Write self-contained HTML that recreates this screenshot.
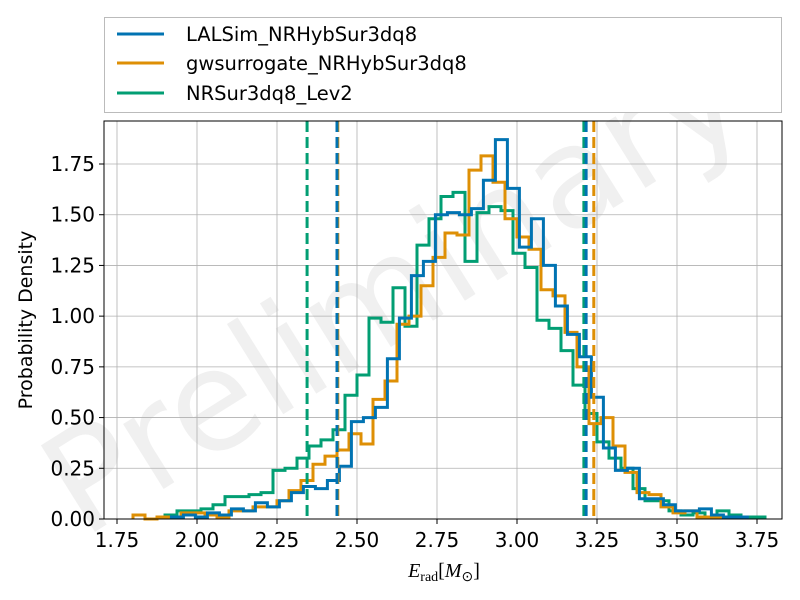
<!DOCTYPE html>
<html><head><meta charset="utf-8"><style>
html,body{margin:0;padding:0;background:#fff;}
svg{display:block;font-family:"DejaVu Sans","Liberation Sans",sans-serif;}
</style></head><body>
<svg id="chart" width="800" height="600" xmlns="http://www.w3.org/2000/svg">
<text x="400" y="335" transform="rotate(-32 400 300)" text-anchor="middle" font-size="140" fill="#000" fill-opacity="0.06">Preliminary</text>
<g id="grid"></g>
<g id="series"></g>
<g id="vlines"></g>
<rect x="104" y="121" width="678" height="398" fill="none" stroke="#000" stroke-width="1"/>
<g id="ticks"></g>
<text x="32" y="320" transform="rotate(-90 32 320)" text-anchor="middle" font-size="19">Probability Density</text>
<text x="444" y="577" text-anchor="middle" font-size="20" font-family="'Liberation Serif',serif" font-style="italic">E<tspan font-size="14" font-style="normal" dy="4">rad</tspan><tspan dy="-4" font-style="normal">[</tspan>M<tspan font-size="14" font-style="normal" dy="4">⊙</tspan><tspan dy="-4" font-style="normal">]</tspan></text>
<g>
<rect x="104.5" y="17.5" width="677" height="95" fill="#fff" stroke="#bbb"/>
<line x1="117" y1="34" x2="164" y2="34" stroke="#0173b2" stroke-width="3"/>
<text x="186" y="41" font-size="19.5">LALSim_NRHybSur3dq8</text>
<line x1="117" y1="63" x2="164" y2="63" stroke="#de8f05" stroke-width="3"/>
<text x="186" y="70" font-size="19.5">gwsurrogate_NRHybSur3dq8</text>
<line x1="117" y1="93" x2="164" y2="93" stroke="#029e73" stroke-width="3"/>
<text x="186" y="100" font-size="19.5">NRSur3dq8_Lev2</text>
</g>
</svg>
<script>
const xTicks=[1.75,2.00,2.25,2.50,2.75,3.00,3.25,3.50,3.75];
const yTicks=[0,0.25,0.5,0.75,1.0,1.25,1.5,1.75];
const binWidth=0.0375;
const blueStart=1.92;
const blueVals=[0.01,0.02,0.01,0.03,0.02,0.05,0.04,0.08,0.06,0.09,0.13,0.16,0.15,0.19,0.26,0.48,0.50,0.55,0.79,0.99,1.20,1.27,1.50,1.51,1.50,1.53,1.67,1.87,1.63,1.34,1.48,1.25,1.05,0.91,0.80,0.60,0.35,0.24,0.25,0.10,0.10,0.07,0.04,0.04,0.05,0.02,0.01,0.01];
const orangeStart=1.80;
const orangeVals=[0.02,0.00,0.01,0.01,0.03,0.03,0.02,0.01,0.04,0.04,0.06,0.06,0.09,0.14,0.19,0.27,0.31,0.34,0.42,0.37,0.59,0.68,0.96,1.00,1.15,1.29,1.41,1.40,1.72,1.79,1.66,1.48,1.39,1.33,1.13,1.10,0.92,0.75,0.47,0.50,0.36,0.23,0.13,0.12,0.06,0.03,0.04,0.01,0.01,0.01,0.01];
const greenStart=1.90;
const greenVals=[0.02,0.04,0.04,0.05,0.07,0.11,0.11,0.12,0.13,0.24,0.25,0.30,0.36,0.39,0.44,0.61,0.71,0.99,0.97,1.14,0.95,1.35,1.48,1.59,1.61,1.27,1.51,1.54,1.52,1.31,1.24,0.98,0.94,0.83,0.66,0.52,0.38,0.30,0.25,0.15,0.09,0.09,0.04,0.02,0.03,0.01,0.04,0.02,0.01,0.01];
const blueBounds=[2.4375,3.216];
const orangeBounds=[2.44,3.24];
const greenBounds=[2.344,3.209];

const X=v=>117+(v-1.75)*320;
const Y=v=>519-v*(355/1.75);
const NS="http://www.w3.org/2000/svg";
function mk(tag,attrs,parent){const e=document.createElementNS(NS,tag);for(const k in attrs)e.setAttribute(k,attrs[k]);parent.appendChild(e);return e;}
const grid=document.getElementById('grid'),ticks=document.getElementById('ticks');
xTicks.forEach(t=>{
 const g=mk('line',{x1:X(t),x2:X(t),y1:121,y2:519,stroke:'#b0b0b0','stroke-width':0.8},grid);
 
 
 const tk=mk('line',{x1:X(t),x2:X(t),y1:519,y2:524,stroke:'#000'},ticks);
 
 
 const l=mk('text',{x:X(t),y:547,'text-anchor':'middle','font-size':20},ticks);
 l.textContent=t.toFixed(2);
 
 
});
yTicks.forEach(t=>{
 const g=mk('line',{x1:104,x2:782,y1:Y(t),y2:Y(t),stroke:'#b0b0b0','stroke-width':0.8},grid);
 
 
 const tk=mk('line',{x1:99,x2:104,y1:Y(t),y2:Y(t),stroke:'#000'},ticks);
 
 
 const l=mk('text',{x:95,y:Y(t)+7,'text-anchor':'end','font-size':20},ticks);
 l.textContent=t.toFixed(2);
 
 
});
const series=document.getElementById('series');
function step(start,vals,color,name){
 let d='M'+X(start)+','+Y(0);
 vals.forEach((v,i)=>{const a=X(start+i*binWidth),b=X(start+(i+1)*binWidth);d+=' L'+a+','+Y(v)+' L'+b+','+Y(v);});
 d+=' L'+X(start+vals.length*binWidth)+','+Y(0);
 const p=mk('path',{d:d,fill:'none',stroke:color,'stroke-width':3,'stroke-linejoin':'miter'},series);
 
 
}
step(greenStart,greenVals,'#029e73','histogram-nrsur');
step(orangeStart,orangeVals,'#de8f05','histogram-gwsurrogate');
step(blueStart,blueVals,'#0173b2','histogram-lalsim');
const vl=document.getElementById('vlines');
function vline(v,color,name){
 const l=mk('line',{x1:X(v),x2:X(v),y1:121,y2:519,stroke:color,'stroke-width':3,'stroke-dasharray':'11,5'},vl);
 
 
}
vline(greenBounds[0],'#029e73','nrsur-lower-bound');
vline(greenBounds[1],'#029e73','nrsur-upper-bound');
vline(orangeBounds[0],'#de8f05','gwsurrogate-lower-bound');
vline(orangeBounds[1],'#de8f05','gwsurrogate-upper-bound');
vline(blueBounds[0],'#0173b2','lalsim-lower-bound');
vline(blueBounds[1],'#0173b2','lalsim-upper-bound');
</script>
</body></html>
